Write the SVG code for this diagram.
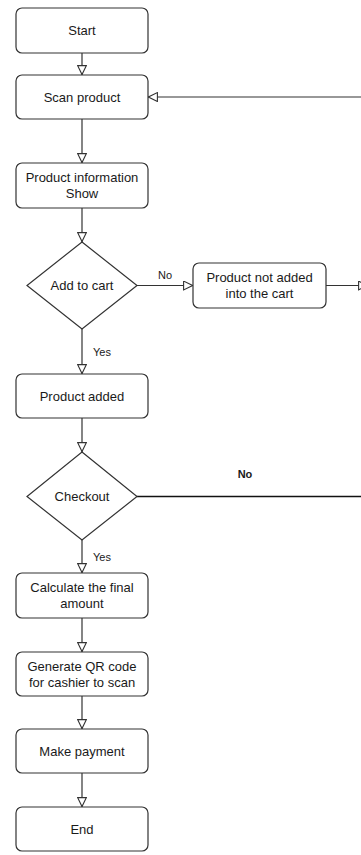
<svg xmlns="http://www.w3.org/2000/svg" width="361" height="855" viewBox="0 0 361 855">
  <style>
    .box { fill: #ffffff; stroke: #333333; stroke-width: 1.2; }
    .lbl { font-family: "Liberation Sans", Arial, sans-serif; font-size: 13px; fill: #1a1a1a; text-anchor: middle; }
    .edge { fill: none; stroke: #333333; stroke-width: 1.2; }
    .elbl { font-family: "Liberation Sans", Arial, sans-serif; font-size: 11px; fill: #1a1a1a; }
  </style>
  <defs>
    <marker id="open-tri" viewBox="0 0 10 10" refX="10" refY="5" markerWidth="10" markerHeight="10" markerUnits="userSpaceOnUse" orient="auto">
      <path d="M0.6,0.6 L9.6,5 L0.6,9.4 Z" fill="#ffffff" stroke="#333333" stroke-width="1.1"/>
    </marker>
  </defs>
  <rect width="361" height="855" fill="#ffffff"/>

  <!-- connectors -->
  <g id="edges">
    <path class="edge" d="M82,53 V75" marker-end="url(#open-tri)"/>
    <path class="edge" d="M82,119 V163" marker-end="url(#open-tri)"/>
    <path class="edge" d="M361,97 H148" marker-end="url(#open-tri)"/>
    <path class="edge" d="M82,208 V242" marker-end="url(#open-tri)"/>
    <path class="edge" d="M137,285.5 H193" marker-end="url(#open-tri)"/>
    <text class="elbl" x="165" y="279" text-anchor="middle">No</text>
    <path class="edge" d="M326,285.5 H368" marker-end="url(#open-tri)"/>
    <path class="edge" d="M82,329 V374" marker-end="url(#open-tri)"/>
    <text class="elbl" x="93" y="356">Yes</text>
    <path class="edge" d="M82,418 V452" marker-end="url(#open-tri)"/>
    <path class="edge" d="M137,496.5 H361" style="stroke:#111111;stroke-width:1.3"/>
    <text class="elbl" x="245" y="478" text-anchor="middle" font-weight="bold">No</text>
    <path class="edge" d="M82,540 V573" marker-end="url(#open-tri)"/>
    <text class="elbl" x="93" y="561">Yes</text>
    <path class="edge" d="M82,618 V652" marker-end="url(#open-tri)"/>
    <path class="edge" d="M82,696 V729" marker-end="url(#open-tri)"/>
    <path class="edge" d="M82,773 V807" marker-end="url(#open-tri)"/>
  </g>

  <g id="start">
    <rect class="box" x="16" y="8" width="132" height="45" rx="6"/>
    <text class="lbl" x="82" y="35">Start</text>
  </g>
  <g id="scan-product">
    <rect class="box" x="16" y="75" width="132" height="44" rx="6"/>
    <text class="lbl" x="82" y="101.5">Scan product</text>
  </g>
  <g id="product-info">
    <rect class="box" x="16" y="163" width="132" height="45" rx="6"/>
    <text class="lbl" x="82" y="182">Product information</text>
    <text class="lbl" x="82" y="198">Show</text>
  </g>
  <g id="add-to-cart">
    <polygon class="box" points="82,242 137,285.5 82,329 27,285.5"/>
    <text class="lbl" x="82" y="290">Add to cart</text>
  </g>
  <g id="not-added">
    <rect class="box" x="193" y="263" width="133" height="45" rx="6"/>
    <text class="lbl" x="259.5" y="282">Product not added</text>
    <text class="lbl" x="259.5" y="298">into the cart</text>
  </g>
  <g id="product-added">
    <rect class="box" x="16" y="374" width="132" height="44" rx="6"/>
    <text class="lbl" x="82" y="400.5">Product added</text>
  </g>
  <g id="checkout">
    <polygon class="box" points="82,452 137,496.5 82,540 27,496.5"/>
    <text class="lbl" x="82" y="500.5">Checkout</text>
  </g>
  <g id="final-amount">
    <rect class="box" x="16" y="573" width="132" height="45" rx="6"/>
    <text class="lbl" x="82" y="592">Calculate the final</text>
    <text class="lbl" x="82" y="608">amount</text>
  </g>
  <g id="qr-code">
    <rect class="box" x="16" y="652" width="132" height="44" rx="6"/>
    <text class="lbl" x="82" y="670.5">Generate QR code</text>
    <text class="lbl" x="82" y="686.5">for cashier to scan</text>
  </g>
  <g id="make-payment">
    <rect class="box" x="16" y="729" width="132" height="44" rx="6"/>
    <text class="lbl" x="82" y="755.5">Make payment</text>
  </g>
  <g id="end">
    <rect class="box" x="16" y="807" width="132" height="44" rx="6"/>
    <text class="lbl" x="82" y="833.5">End</text>
  </g>
</svg>
